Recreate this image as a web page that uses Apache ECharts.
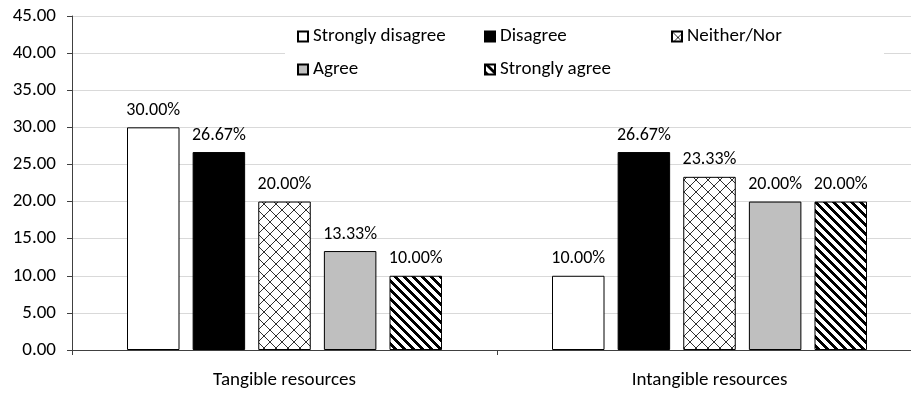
<!DOCTYPE html>
<html>
<head>
<meta charset="utf-8">
<script src="https://cdn.jsdelivr.net/npm/echarts@6/dist/echarts.min.js"></script>
<style>
  html, body { margin: 0; padding: 0; background: #fff; overflow: hidden; }
  /* plot area runs slightly past the right edge of the window */
  #chart { width: 922px; height: 394px; }
</style>
</head>
<body>
<div id="chart"></div>
<script>
// Survey responses (percent) per resource type
const categories = ['Tangible resources', 'Intangible resources'];
const seriesNames = ['Strongly disagree', 'Disagree', 'Neither/Nor', 'Agree', 'Strongly agree'];
const stronglyDisagree = [30.00, 10.00];
const disagree = [26.67, 26.67];
const neitherNor = [20.00, 23.33];
const agree = [13.33, 20.00];
const stronglyAgree = [10.00, 20.00];
const yTicks = { min: 0, max: 45, step: 5 };

const FONT = 'Carlito, Lato, "Open Sans", sans-serif';
const FS = 19;
const FS_VALUE = 18;

// Diagonal cross-hatch tile (diamond lattice)
function crossHatch() {
  const n = 12;
  const c = document.createElement('canvas');
  c.width = n; c.height = n;
  const g = c.getContext('2d');
  g.fillStyle = '#fff'; g.fillRect(0, 0, n, n);
  g.fillStyle = '#303030';
  for (let i = 0; i < n; i++) {
    g.fillRect(i, i, 1, 1);
    g.fillRect(n - 1 - i, i, 1, 1);
  }
  return c;
}

// Wide downward-diagonal stripes tile
function wideStripes() {
  const n = 9;
  const c = document.createElement('canvas');
  c.width = n; c.height = n;
  const g = c.getContext('2d');
  g.fillStyle = '#fff'; g.fillRect(0, 0, n, n);
  g.fillStyle = '#000';
  for (let y = 0; y < n; y++) {
    for (let x = 0; x < n; x++) {
      if (((x - y) % n + n) % n < 4) g.fillRect(x, y, 1, 1);
    }
  }
  return c;
}

const fills = [
  '#ffffff',
  '#000000',
  { image: crossHatch(), repeat: 'repeat' },
  '#bfbfbf',
  { image: wideStripes(), repeat: 'repeat' }
];
const values = [stronglyDisagree, disagree, neitherNor, agree, stronglyAgree];

const chart = echarts.init(document.getElementById('chart'), null, { renderer: 'canvas' });

chart.setOption({
  animation: false,
  backgroundColor: '#fff',
  textStyle: { fontFamily: FONT },
  grid: { left: 72, right: 0, top: 16, bottom: 44, containLabel: false },
  legend: {
    data: seriesNames,
    left: 285,
    top: 20,
    width: 600,
    padding: [0, 26, 0, 12],
    backgroundColor: '#fff',
    itemWidth: 10,
    itemHeight: 10,
    itemGap: 0,
    icon: 'rect',
    textStyle: { fontFamily: FONT, fontSize: FS, color: '#000', width: 171, height: 33, lineHeight: 33 },
    z: 10
  },
  xAxis: {
    type: 'category',
    data: categories,
    axisLine: { lineStyle: { color: '#404040', width: 1 } },
    axisTick: { show: true, length: 5, lineStyle: { color: '#404040' } },
    axisLabel: { color: '#000', fontSize: FS, fontFamily: FONT, margin: 21 },
    splitLine: { show: false }
  },
  yAxis: {
    type: 'value',
    min: yTicks.min,
    max: yTicks.max,
    interval: yTicks.step,
    axisLine: { show: true, lineStyle: { color: '#404040', width: 1 } },
    axisTick: { show: true, length: 5, lineStyle: { color: '#404040' } },
    axisLabel: { color: '#000', fontSize: FS, fontFamily: FONT, margin: 16,
      formatter: v => v.toFixed(2) },
    splitLine: { show: true, lineStyle: { color: '#d9d9d9', width: 1 } }
  },
  series: seriesNames.map((name, i) => ({
    name: name,
    type: 'bar',
    data: values[i],
    barWidth: 52.5,
    barGap: '25%',
    itemStyle: { color: fills[i], borderColor: '#000', borderWidth: 1 },
    label: {
      show: true,
      position: 'top',
      distance: 8,
      color: '#000',
      fontSize: FS_VALUE,
      fontFamily: FONT,
      formatter: p => p.value.toFixed(2) + '%'
    }
  }))
});
</script>
</body>
</html>
